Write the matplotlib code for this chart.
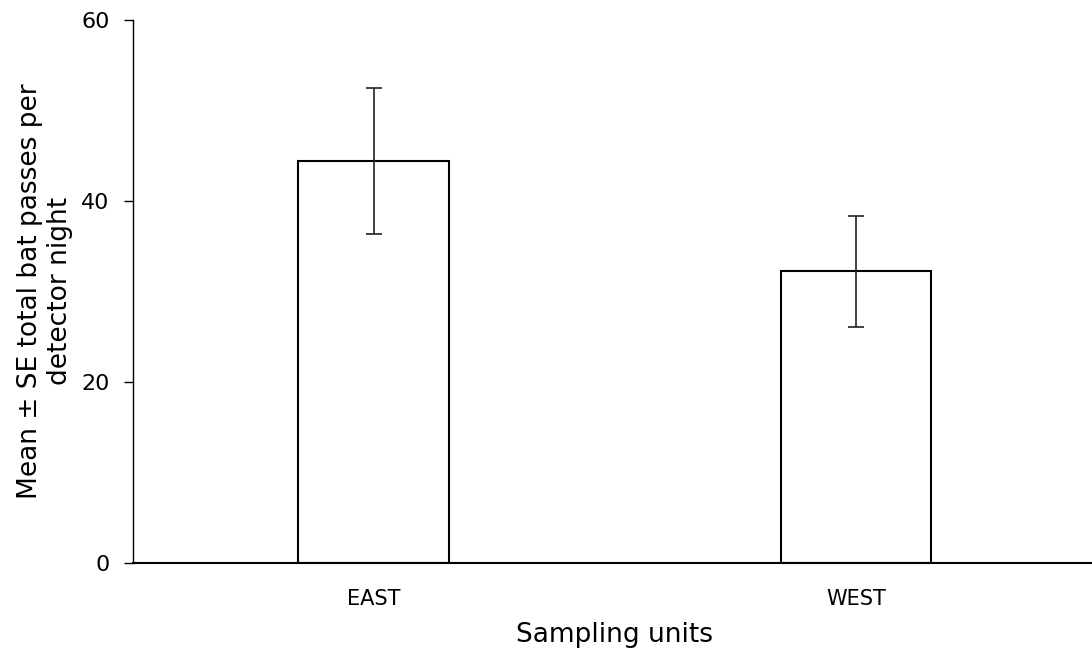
import matplotlib
matplotlib.use("Agg")
import matplotlib.pyplot as plt

units = ["EAST", "WEST"]
mean_passes = [44.4, 32.2]
se_passes = [8.1, 6.15]

plt.rcParams['font.family'] = ['DejaVu Sans']

fig = plt.figure(figsize=(10.92, 6.57), dpi=100)
ax = fig.add_axes([0.1215, 0.1435, 0.883, 0.826])

x = range(len(units))
ax.bar(x, mean_passes, width=0.3125, color="white", edgecolor="black", linewidth=1.5,
       yerr=se_passes, capsize=6, error_kw=dict(elinewidth=1.2, capthick=1.2, ecolor="#222222"))

ax.set_xlim(-0.5, 1.5)
ax.set_ylim(0, 60)
ax.set_yticks([0, 20, 40, 60])
ax.set_xticks(list(x))
ax.set_xticklabels(units, fontsize=15)
ax.tick_params(axis='y', labelsize=16, length=6.5, width=1, pad=10)
ax.tick_params(axis='x', length=0, pad=19)

for s in ["top", "right"]:
    ax.spines[s].set_visible(False)
ax.spines["left"].set_linewidth(1)
ax.spines["bottom"].set_linewidth(1.5)

ax.set_xlabel("Sampling units", fontsize=19, labelpad=9)
ax.set_ylabel("Mean \u00b1 SE total bat passes per\ndetector night", fontsize=19, labelpad=6)

fig.savefig("out.png", dpi=100)
